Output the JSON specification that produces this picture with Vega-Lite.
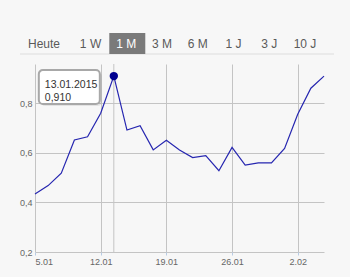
{
  "$schema": "https://vega.github.io/schema/vega-lite/v6.json",
  "width": 289,
  "height": 188,
  "autosize": "none",
  "padding": {"left": 35, "top": 64, "right": 26, "bottom": 25},
  "background": "#f7f7f7",
  "config": {"view": {"stroke": null}, "font": "Liberation Sans"},
  "layer": [
    {
      "data": {"values": [
        {"d": "2015-01-05", "v": 0.434},
        {"d": "2015-01-06", "v": 0.468},
        {"d": "2015-01-07", "v": 0.518},
        {"d": "2015-01-08", "v": 0.652},
        {"d": "2015-01-09", "v": 0.665},
        {"d": "2015-01-12", "v": 0.760},
        {"d": "2015-01-13", "v": 0.910},
        {"d": "2015-01-14", "v": 0.692},
        {"d": "2015-01-15", "v": 0.710},
        {"d": "2015-01-16", "v": 0.612},
        {"d": "2015-01-19", "v": 0.651},
        {"d": "2015-01-20", "v": 0.612},
        {"d": "2015-01-21", "v": 0.581},
        {"d": "2015-01-22", "v": 0.589},
        {"d": "2015-01-23", "v": 0.528},
        {"d": "2015-01-26", "v": 0.622},
        {"d": "2015-01-27", "v": 0.551},
        {"d": "2015-01-28", "v": 0.560},
        {"d": "2015-01-29", "v": 0.560},
        {"d": "2015-01-30", "v": 0.618},
        {"d": "2015-02-02", "v": 0.756},
        {"d": "2015-02-03", "v": 0.861},
        {"d": "2015-02-04", "v": 0.910}
      ]},
      "encoding": {
        "x": {"field": "d", "type": "ordinal",
          "scale": {"type": "point", "padding": 0},
          "axis": {"values": ["2015-01-05", "2015-01-12", "2015-01-19", "2015-01-26", "2015-02-02"],
            "labelExpr": "utcFormat(toDate(datum.value), '%-d.%m')",
            "labelAngle": 0, "labelFlush": true, "title": null, "domain": false,
            "grid": true, "gridColor": "#c4c4c4", "gridOpacity": 1,
            "tickColor": "#b8cce4", "tickSize": 3, "labelPadding": 2,
            "labelFontSize": 9, "labelColor": "#666666"}},
        "y": {"field": "v", "type": "quantitative",
          "scale": {"domain": [0.2, 0.9587], "nice": false, "zero": false},
          "axis": {"values": [0.2, 0.4, 0.6, 0.8],
            "labelExpr": "replace(format(datum.value, '.1f'), '.', ',')",
            "title": null, "domain": false, "ticks": false, "labelPadding": 3,
            "grid": true, "gridColor": "#c4c4c4", "gridOpacity": 1,
            "labelFontSize": 9, "labelColor": "#666666"}}
      },
      "layer": [
        {"transform": [{"filter": "datum.d == '2015-01-13'"}],
         "mark": {"type": "rule", "color": "#c4c4c4", "strokeWidth": 1},
         "encoding": {"y": null}},
        {"mark": {"type": "line", "color": "#2626b0", "strokeWidth": 1.2}},
        {"transform": [{"filter": "datum.d == '2015-01-13'"}],
         "mark": {"type": "rect", "fill": "#000000", "opacity": 0.08, "cornerRadius": 4,
           "xOffset": -73, "x2Offset": -12, "yOffset": -4, "y2Offset": 30},
         "encoding": {"x2": {"field": "d"}, "y2": {"field": "v"}}},
        {"transform": [{"filter": "datum.d == '2015-01-13'"}],
         "mark": {"type": "rect", "fill": "#ffffff", "stroke": "#a8a8a8", "strokeWidth": 2, "cornerRadius": 4,
           "xOffset": -75, "x2Offset": -14, "yOffset": -6, "y2Offset": 28},
         "encoding": {"x2": {"field": "d"}, "y2": {"field": "v"}}},
        {"transform": [{"filter": "datum.d == '2015-01-13'"},
           {"calculate": "utcFormat(toDate(datum.d), '%d.%m.%Y') + '\\n' + replace(format(datum.v, '.3f'), '.', ',')", "as": "tip"}],
         "mark": {"type": "text", "align": "left", "baseline": "top", "dx": -69, "dy": 4,
           "fontSize": 10.5, "lineHeight": 13, "color": "#333333", "lineBreak": "\n"},
         "encoding": {"text": {"field": "tip"}}},
        {"transform": [{"filter": "datum.d == '2015-01-13'"}],
         "mark": {"type": "point", "filled": true, "size": 70, "color": "#00008f", "opacity": 1}}
      ]
    },
    {
      "data": {"values": [
        {"label": "Heute"}, {"label": "1 W"}, {"label": "1 M"}, {"label": "3 M"},
        {"label": "6 M"}, {"label": "1 J"}, {"label": "3 J"}, {"label": "10 J"}
      ]},
      "encoding": {
        "x": {"field": "label", "type": "ordinal",
          "scale": {"type": "point", "padding": 0, "range": [19.8, 270],
            "domain": ["Heute", "1 W", "1 M", "3 M", "6 M", "1 J", "3 J", "10 J"]}, "axis": null},
        "y": {"datum": "btn", "type": "nominal",
          "scale": {"type": "band", "range": [-31, -10], "paddingInner": 0, "paddingOuter": 0}, "axis": null}
      },
      "layer": [
        {"transform": [{"filter": "datum.label == 'Heute'"}],
         "mark": {"type": "rule", "color": "#dddddd", "strokeWidth": 1, "xOffset": -34.8, "x2Offset": 29},
         "encoding": {"x2": {"datum": "10 J"}, "y": {"datum": "btn", "type": "nominal", "bandPosition": 1}}},
        {"transform": [{"filter": "datum.label == '1 M'"}],
         "mark": {"type": "rect", "fill": "#7a7a7a", "xOffset": -17, "x2Offset": 19},
         "encoding": {"x2": {"field": "label"}}},
        {"transform": [{"filter": "datum.label != 'Heute'"}],
         "mark": {"type": "text", "fontSize": 12, "baseline": "middle"},
         "encoding": {"text": {"field": "label"},
           "color": {"condition": {"test": "datum.label == '1 M'", "value": "#ffffff"}, "value": "#5a5a5a"}}},
        {"transform": [{"filter": "datum.label == 'Heute'"}],
         "mark": {"type": "text", "fontSize": 12, "baseline": "middle", "dx": -10.8, "color": "#5a5a5a"},
         "encoding": {"text": {"field": "label"}}}
      ]
    }
  ],
  "resolve": {"scale": {"x": "independent", "y": "independent"}}
}
